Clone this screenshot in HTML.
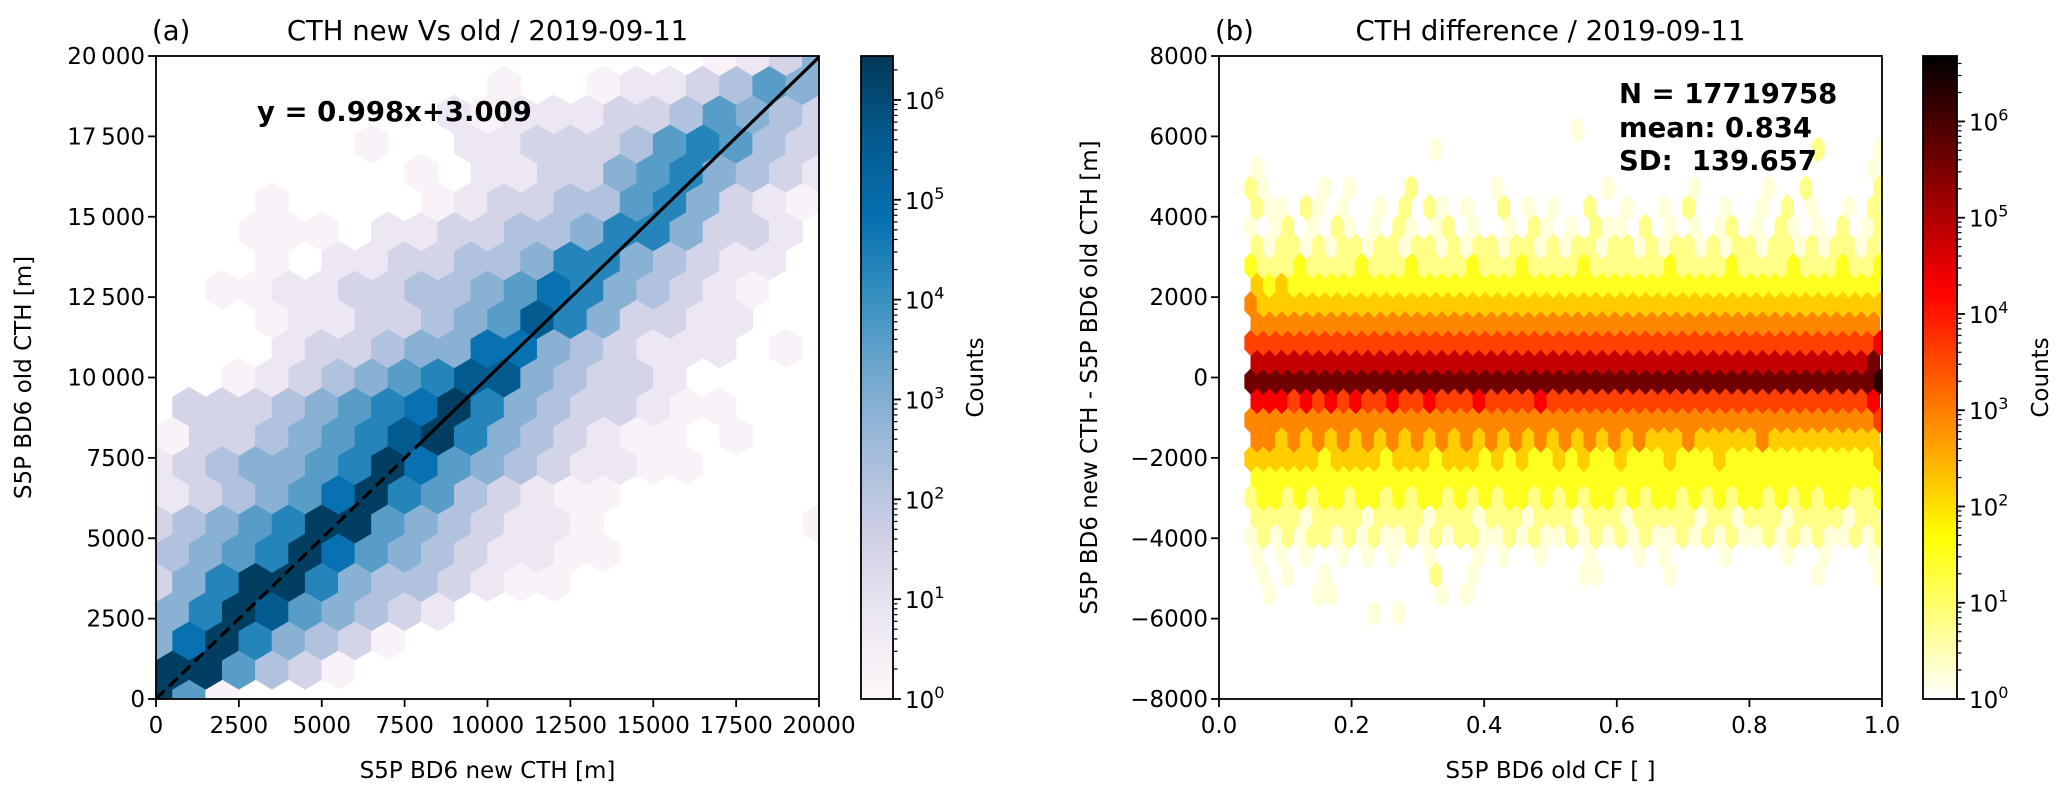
<!DOCTYPE html>
<html><head><meta charset="utf-8"><style>
html,body{margin:0;padding:0;background:#fff;}
svg{display:block;font-family:"DejaVu Sans","Liberation Sans",sans-serif;}
</style></head><body>
<svg id="fig" xmlns="http://www.w3.org/2000/svg" width="2067" height="788" viewBox="0 0 2067 788"></svg>
<script>
// ---------- DATA ----------
// level digit -> log10(count)
const levelLog = [0.25,0.8,1.5,2.2,2.9,3.6,4.3,4.8,5.6,6.3];
// Left hexbin rows (row k at y = k*909 m); even rows x=i*1000, odd rows x=(i+0.5)*1000
const leftRows = [
"950....... .......... .",
"995320.... ..........",
"47964320.. .......... .",
"469854321. ..........",
"2469964332 100....... .",
"3456975432 1100......",
"2345699543 2110...... 0",
"1234579653 2100......",
"1234456975 4321100... .",
"0223456896 432100.0..",
".222345679 64322100.. .",
"..01234568 843221....",
"....122344 77432111.0 .",
"...0112234 58642211..",
"..00112233 457643210. .",
"...0.11223 346643211.",
"...000.112 2334664221 .",
"...0....01 2233564210",
"........0. 1122456432 1",
"......0..1 1222356532",
".........1 0111223543 2",
".......... 0..0112354",
".......... .......012 4"
];
const leftXTicks = [0,2500,5000,7500,10000,12500,15000,17500,20000];
const leftXTickLabels = ["0","2500","5000","7500","10000","12500","15000","17500","20000"];
const leftYTicks = [0,2500,5000,7500,10000,12500,15000,17500,20000];
const leftYTickLabels = ["0","2500","5000","7500","10\u2009000","12\u2009500","15\u2009000","17\u2009500","20\u2009000"];
const fitSlope = 0.998, fitIntercept = 3.009;

// Right hexbin rows, from k=-12 upward (row y = -100 + k*481 m); even |k| -> lattice1
const rightRowStartK = -12;
const rightRows = [
".......... 0.0....... .......... .......... .......... ..",
".0...00... .....0.0.. .......... .......... .......... .",
".0.0..0... .....1..0. .......00. ....0..... ......0... .0",
"0.0.0..0.0 .0..0...0. 0..0...0.. .0.0....0. ...0..0... 0",
"0101011010 1001010110 0101001010 1010010101 0010101001 01",
"1111011110 1111011101 1101110111 0111110110 1110111101 1",
"1221212212 2121221212 1221212122 1212212121 2212121221 12",
"2222222222 2222222222 2222222222 2222222222 2222222222 2",
"3333332333 3233323332 3232232322 3222322232 2222222222 23",
"4434343434 3434343434 3434343434 3433343333 3433333333 3",
"4444444444 4444444444 4444444444 4444444444 4444444444 45",
"6665656565 5655655565 5556555555 5555555555 5555555555 6",
"8888888888 8888888888 8888888888 8888888888 8888888888 89",
"7777777777 7777777777 7777777777 7777777777 7777777777 8",
"5555555555 5555555555 5555555555 5555555555 5555555555 56",
"4444444444 4444444444 4444444444 4444444444 4444444444 4",
"4333333333 3333333333 3333333333 3333333333 3333333333 33",
"3232222222 2222222222 2222222222 2222222222 2222222222 2",
"2111211112 1112111121 1121111211 1111211112 1111211121 12",
"1011010110 1101101011 0110101101 1010110101 1011010110 1",
"0.01.0.10. 0.10.01.0. .0.10.0.10 0.1.0.0.01 .0.10.0.1. 01",
"100.10.0.. 0.1.10.0.. 1.0.0..1.. 0..0.1..0. .0.1.0..0. 1",
"10....0.0. ...1...... 0........0 ......0... ..0..1.... .1",
"0......... .......... .......... .......... .......... 0",
".......... .....0.... .......... .......... ......1... .0",
".......... .......... ......0"
];
const rightXTicks = [0,0.2,0.4,0.6,0.8,1.0];
const rightXTickLabels = ["0.0","0.2","0.4","0.6","0.8","1.0"];
const rightYTicks = [-8000,-6000,-4000,-2000,0,2000,4000,6000,8000];
const rightYTickLabels = ["\u22128000","\u22126000","\u22124000","\u22122000","0","2000","4000","6000","8000"];
const cbExponents = [0,1,2,3,4,5,6];

// ---------- RENDER ----------
const NS = "http://www.w3.org/2000/svg";
const svg = document.getElementById('fig');
function el(tag, attrs, parent){ const e=document.createElementNS(NS,tag); for(const k in attrs) e.setAttribute(k,attrs[k]); (parent||svg).appendChild(e); return e; }
function txt(str, attrs, parent){ const e=el('text',attrs,parent); e.textContent=str; return e; }
function hex2rgb(h){return [parseInt(h.slice(1,3),16),parseInt(h.slice(3,5),16),parseInt(h.slice(5,7),16)];}
const pubu = ['#fff7fb','#ece7f2','#d0d1e6','#a6bddb','#74a9cf','#3690c0','#0570b0','#045a8d','#023858'].map(hex2rgb);
function cmapPuBu(t){ t=Math.max(0,Math.min(1,t)); const p=t*(pubu.length-1); const i=Math.min(pubu.length-2,Math.floor(p)); const f=p-i;
  const c=pubu[i].map((v,j)=>Math.round(v+(pubu[i+1][j]-v)*f)); return `rgb(${c[0]},${c[1]},${c[2]})`; }
function cmapHotR(t){ const s=1-Math.max(0,Math.min(1,t)); const cl=v=>Math.max(0,Math.min(1,v));
  const r=cl(s/0.365), g=cl((s-0.365)/0.381), b=cl((s-0.746)/0.254);
  return `rgb(${Math.round(r*255)},${Math.round(g*255)},${Math.round(b*255)})`; }

const TICK_FS = 23;
function makeAxes(cfg){
  const g = el('g',{});  
  const sx = v => cfg.x0 + (v-cfg.xmin)/(cfg.xmax-cfg.xmin)*(cfg.x1-cfg.x0);
  const sy = v => cfg.y1 - (v-cfg.ymin)/(cfg.ymax-cfg.ymin)*(cfg.y1-cfg.y0);
  const cid = cfg.name+'-clip';
  const defs = el('defs',{},g); const cp = el('clipPath',{id:cid},defs);
  el('rect',{x:cfg.x0,y:cfg.y0,width:cfg.x1-cfg.x0,height:cfg.y1-cfg.y0},cp);
  const hg = el('g',{'clip-path':`url(#${cid})`},g);
   
  return {g, sx, sy, hg};
}
function drawHex(parent, cx, cy, w, h, color){
  const hw=w/2, hh=h/2;
  const d=`M${cx+hw},${cy+hh/2}L${cx},${cy+hh}L${cx-hw},${cy+hh/2}L${cx-hw},${cy-hh/2}L${cx},${cy-hh}L${cx+hw},${cy-hh/2}Z`;
  const p = el('path',{d, fill:color, stroke:color, 'stroke-width':0.6}, parent);
  
  
}
function drawFrame(ax, cfg){
  const g=ax.g;
  el('rect',{x:cfg.x0,y:cfg.y0,width:cfg.x1-cfg.x0,height:cfg.y1-cfg.y0,fill:'none',stroke:'#000','stroke-width':1.8},g);
  cfg.xticks.forEach((v,i)=>{
    const x=ax.sx(v);
    el('line',{x1:x,x2:x,y1:cfg.y1,y2:cfg.y1+8,stroke:'#000','stroke-width':1.8},g);
    const t=txt(cfg.xlabels[i],{x:x,y:cfg.y1+34,'text-anchor':'middle','font-size':TICK_FS,fill:'#000'},g);
     
  });
  cfg.yticks.forEach((v,i)=>{
    const y=ax.sy(v);
    el('line',{x1:cfg.x0-8,x2:cfg.x0,y1:y,y2:y,stroke:'#000','stroke-width':1.8},g);
    const t=txt(cfg.ylabels[i],{x:cfg.x0-11,y:y+8,'text-anchor':'end','font-size':TICK_FS,fill:'#000'},g);
     
  });
}
function drawColorbar(name, x0, x1, y0, y1, logMax, cmap, exps){
  const g=el('g',{});  
  const gid=name+'-grad';
  const defs=el('defs',{},g); const lg=el('linearGradient',{id:gid,x1:0,y1:1,x2:0,y2:0},defs);
  for(let i=0;i<=40;i++){ const t=i/40; el('stop',{offset:t,'stop-color':cmap(t)},lg); }
  el('rect',{x:x0,y:y0,width:x1-x0,height:y1-y0,fill:`url(#${gid})`},g);
  el('rect',{x:x0,y:y0,width:x1-x0,height:y1-y0,fill:'none',stroke:'#000','stroke-width':1.8},g);
  const ly = L => y1 - L/logMax*(y1-y0);
  for(let d=0; d<=Math.floor(logMax); d++){
    for(let m=2;m<=9;m++){ const L=d+Math.log10(m); if(L>logMax) break; const y=ly(L);
      el('line',{x1:x1,x2:x1+4.5,y1:y,y2:y,stroke:'#000','stroke-width':1.2},g); }
  }
  exps.forEach(e=>{ const y=ly(e);
    el('line',{x1:x1,x2:x1+8,y1:y,y2:y,stroke:'#000','stroke-width':1.8},g);
    const t=el('text',{x:x1+12,y:y+9,'font-size':TICK_FS,fill:'#000'},g);
     
    const a=document.createElementNS(NS,'tspan'); a.textContent='10'; t.appendChild(a);
    const b=document.createElementNS(NS,'tspan'); b.setAttribute('dy',-10); b.setAttribute('font-size',16); b.textContent=String(e); t.appendChild(b);
  });
  return g;
}
function clean(s){ return s.replace(/ /g,''); }

// ===== Left panel =====
const L = {name:'hexbin-new-vs-old', x0:156, x1:819, y0:56, y1:699, xmin:0, xmax:20000, ymin:0, ymax:20000,
  xticks:leftXTicks, xlabels:leftXTickLabels, yticks:leftYTicks, ylabels:leftYTickLabels};
const axL = makeAxes(L);
const LSX=1000, LSY=20000/11, LLOGMAX=6.44;
leftRows.forEach((row,k)=>{
  const s=clean(row); const off = (k%2===1)?0.5:0;
  for(let i=0;i<s.length;i++){ const c=s[i]; if(c==='.') continue;
    const lg = levelLog[+c];
    const cx=axL.sx((i+off)*LSX), cy=axL.sy(k*LSY/2);
    const w=axL.sx(LSX)-axL.sx(0), h=(axL.sy(0)-axL.sy(LSY))*2/3;
    drawHex(axL.hg,cx,cy,w,h,cmapPuBu(lg/LLOGMAX));
  }
});
const fitBreak = 8000;
const fl1 = el('line',{x1:axL.sx(0),y1:axL.sy(fitIntercept),x2:axL.sx(fitBreak),y2:axL.sy(fitSlope*fitBreak+fitIntercept),stroke:'#000','stroke-width':3.2,'stroke-dasharray':'12,6'},axL.hg);
 
const fl2 = el('line',{x1:axL.sx(fitBreak),y1:axL.sy(fitSlope*fitBreak+fitIntercept),x2:axL.sx(20000),y2:axL.sy(fitSlope*20000+fitIntercept),stroke:'#000','stroke-width':3.2},axL.hg);
 
drawFrame(axL,L);
drawColorbar('colorbar-left',861,893,56,699,LLOGMAX,cmapPuBu,cbExponents);

// ===== Right panel =====
const R = {name:'hexbin-difference', x0:1219, x1:1882, y0:56, y1:699, xmin:0, xmax:1, ymin:-8000, ymax:8000,
  xticks:rightXTicks, xlabels:rightXTickLabels, yticks:rightYTicks, ylabels:rightYTickLabels};
const axR = makeAxes(R);
const RX0=0.048, RSX=0.0186, RY0=-100, RSY=962, RLOGMAX=6.68;
rightRows.forEach((row,idx)=>{
  const k=rightRowStartK+idx; const s=clean(row); const off=(Math.abs(k)%2===1)?0.5:0;
  for(let i=0;i<s.length;i++){ const c=s[i]; if(c==='.') continue;
    const lg=levelLog[+c];
    const cx=axR.sx(RX0+(i+off)*RSX), cy=axR.sy(RY0+k*RSY/2);
    const w=axR.sx(RSX)-axR.sx(0), h=(axR.sy(0)-axR.sy(RSY))*2/3;
    drawHex(axR.hg,cx,cy,w,h,cmapHotR(lg/RLOGMAX));
  }
});
drawFrame(axR,R);
drawColorbar('colorbar-right',1923,1957,56,699,RLOGMAX,cmapHotR,cbExponents);
</script>
<script>
(function(){
const NS="http://www.w3.org/2000/svg"; const svg=document.getElementById('fig');
function T(s,a,name){const e=document.createElementNS(NS,'text');for(const k in a)e.setAttribute(k,a[k]);e.textContent=s;
    svg.appendChild(e);return e;}
T('(a)',{x:152,y:40,'font-size':27.5},'panel-label-a');
T('CTH new Vs old / 2019-09-11',{x:487.5,y:40,'font-size':27.5,'text-anchor':'middle'},'title-left');
T('(b)',{x:1215,y:40,'font-size':27.5},'panel-label-b');
T('CTH difference / 2019-09-11',{x:1550.5,y:40,'font-size':27.5,'text-anchor':'middle'},'title-right');
T('y = 0.998x+3.009',{x:257,y:121,'font-size':27.5,'font-weight':'bold'},'fit-equation');
T('N = 17719758',{x:1619,y:103,'font-size':27.5,'font-weight':'bold'},'stat-n');
T('mean: 0.834',{x:1619,y:137,'font-size':27.5,'font-weight':'bold'},'stat-mean');
T('SD:\u00a0 139.657',{x:1619,y:170,'font-size':27.5,'font-weight':'bold'},'stat-sd');
T('S5P BD6 new CTH [m]',{x:487.5,y:778,'font-size':23,'text-anchor':'middle'},'x-axis-title-left');
T('S5P BD6 old CF [ ]',{x:1550.5,y:778,'font-size':23,'text-anchor':'middle'},'x-axis-title-right');
T('S5P BD6 old CTH [m]',{x:0,y:0,'font-size':23,'text-anchor':'middle',transform:'translate(31,377.5) rotate(-90)'},'y-axis-title-left');
T('S5P BD6 new CTH - S5P BD6 old CTH [m]',{x:0,y:0,'font-size':23,'text-anchor':'middle',transform:'translate(1097,377.5) rotate(-90)'},'y-axis-title-right');
T('Counts',{x:0,y:0,'font-size':23,'text-anchor':'middle',transform:'translate(983,377.5) rotate(-90)'},'colorbar-label-left');
T('Counts',{x:0,y:0,'font-size':23,'text-anchor':'middle',transform:'translate(2048,377.5) rotate(-90)'},'colorbar-label-right');
})();
</script>
</body></html>
